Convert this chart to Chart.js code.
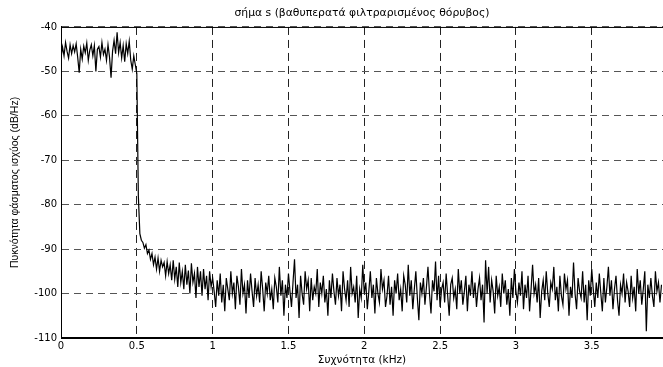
<!DOCTYPE html>
<html>
<head>
<meta charset="utf-8">
<script src="https://cdn.jsdelivr.net/npm/chart.js@4/dist/chart.umd.min.js"></script>
<style>
  html, body { margin: 0; padding: 0; background: #fff; }
  #wrap { width: 663px; height: 367px; }
</style>
</head>
<body>
<div id="wrap"><canvas id="psdChart"></canvas></div>
<script>
// PSD estimate of the low-pass filtered noise, one value every 0.01 kHz
const freqStart = 0;
const freqStep = 0.01; // kHz

const psdPassband = [
  -47, -44.5, -46.5, -43.5, -45.5, -47, -44, -46, -44.2, -45.6,
  -43.8, -46.8, -50.3, -45, -47.2, -44.3, -45.8, -43.6, -47.5, -45.2,
  -44, -46.5, -44.2, -50, -45, -44.4, -46.8, -43.5, -46.2, -45,
  -47.5, -44, -46.8, -51.4, -45.5, -43, -46, -41.2, -45.8, -43.5,
  -47, -44.2, -47.8, -43.8, -46, -43.2, -47.5, -49.5, -46.5, -48.5
];

const psdTransition = [
  -50.5, -78, -86.5, -88, -88.5, -89.8, -89, -91, -90.2, -92.3,
  -91, -93.5, -91.8, -94.5, -92, -95, -92.5, -94, -93, -96,
  -92.8, -95.5, -93.5, -97, -92.5, -96.8, -94, -98.5, -93, -97.5,
  -95, -99, -93.5, -98, -94.8, -100, -93.2, -97.5, -95.5, -101,
  -94, -98.5, -95, -100.5, -94.5, -99, -96, -101.5, -95, -98.5,
  -96.5
];

const psdStopband = [
  -99.5, -103, -97, -100.5, -95.5, -102, -98, -104, -96.5, -99,
  -101.5, -95, -100, -97.5, -103.5, -96, -98.5, -102.5, -94.5, -100,
  -98, -104.5, -97, -101, -95.5, -99.5, -103, -96.5, -100.5, -98,
  -102, -95, -99, -104, -97.5, -100, -96, -101.5, -99, -103.5,
  -96.5, -98.5, -102, -94, -100.5, -97, -105, -98, -101, -95.5,
  -99.5, -103, -97.5, -92.3, -101, -98, -105.5, -96, -100, -102.5,
  -95, -99, -97, -104, -96.5, -101.5, -98.5, -100, -94.5, -103,
  -97.5, -100, -96, -102, -99, -105, -97, -101, -95.5, -99.5,
  -102.5, -96.5, -100.5, -98, -104, -95, -99, -101.5, -97, -103,
  -94, -100, -98.5, -102, -96, -105.5, -99, -101, -93.5, -100,
  -97.5, -103.5, -99.5, -95, -101, -98, -104.5, -96.5, -100, -102,
  -94.5, -99, -97, -103, -100.5, -96, -102.5, -98.5, -105, -97,
  -100, -95.5, -101.5, -99, -104, -96, -98, -102, -93.5, -100.5,
  -97, -103.5, -99, -95, -101, -106, -97.5, -100, -96.5, -102.5,
  -98.5, -94, -100, -104.5, -97, -99.5, -92.8, -101.5, -96, -103,
  -99, -97.5, -102, -95.5, -100.5, -105, -98, -96.5, -101, -99,
  -103.5, -94.5, -100, -97, -102.5, -99.5, -96, -104, -98, -100.5,
  -95, -101, -97.5, -103, -99, -96.5, -101.5, -98, -106.5, -92.5,
  -100, -94, -102, -97, -99.5, -104.5, -96, -100.5, -98.5, -103,
  -95.5, -100, -97, -102.5, -99, -105, -96.5, -101, -94.5, -99.5,
  -102, -97.5, -100.5, -95, -103.5, -98, -101, -96, -104, -99,
  -93.5, -100, -98, -102, -96.5, -105.5, -99.5, -97, -101.5, -95,
  -100, -103, -97.5, -99, -94, -101.5, -98.5, -104, -96, -100.5,
  -102.5, -95.5, -99, -97, -105, -98.5, -101, -93, -100, -103.5,
  -96.5, -99.5, -101, -95, -102, -98, -106, -97, -100.5, -94.5,
  -99, -103, -97.5, -101, -95.5, -100, -104, -96.5, -102, -98.5,
  -94, -100.5, -97, -103.5, -99, -96, -101.5, -105, -98, -100,
  -95.5, -102, -97.5, -99.5, -103, -96, -101, -98.5, -104, -94.5,
  -100, -97, -102.5, -99, -95, -108.5, -98, -101, -96.5, -100.5,
  -103, -95, -99.5, -97.5, -102, -98
];

const xTicks = [0, 0.5, 1, 1.5, 2, 2.5, 3, 3.5];
const yTicks = [-110, -100, -90, -80, -70, -60, -50, -40];

const psd = psdPassband.concat(psdTransition, psdStopband);
const points = psd.map((v, i) => ({ x: freqStart + i * freqStep, y: v }));

const wideFont = "'DejaVu Sans', Verdana, sans-serif";
const narrowFont = "'Liberation Sans', Arial, sans-serif";

const ctx = document.getElementById("psdChart");

new Chart(ctx, {
  type: "line",
  data: {
    datasets: [
      {
        data: points,
        borderColor: "#000",
        borderWidth: 1.2,
        pointRadius: 0,
        tension: 0,
      },
    ],
  },
  options: {
    responsive: true,
    maintainAspectRatio: false,
    animation: false,
    layout: { padding: 0 },
    plugins: {
      legend: { display: false },
      tooltip: { enabled: false },
      title: {
        display: true,
        fullSize: false,
        text: "σήμα s (βαθυπερατά φιλτραρισμένος θόρυβος)",
        color: "#000",
        font: { family: wideFont, size: 10.8, weight: "normal" },
        padding: { top: 7, bottom: 7 },
      },
    },
    scales: {
      x: {
        type: "linear",
        min: 0,
        max: 3.97,
        afterBuildTicks: (scale) => {
          scale.ticks = xTicks.map((v) => ({ value: v }));
        },
        afterFit: (scale) => {
          scale.height = 29;
        },
        ticks: {
          color: "#000",
          font: { family: wideFont, size: 10 },
          padding: 2,
          maxRotation: 0,
          autoSkip: false,
          callback: (v) => String(v),
        },
        grid: {
          color: "#222",
          lineWidth: 1,
          drawTicks: false,
        },
        border: { display: true, color: "#000", width: 1, dash: [8, 5] },
        title: {
          display: true,
          text: "Συχνότητα (kHz)",
          color: "#000",
          font: { family: wideFont, size: 10.5 },
          padding: { top: 0, bottom: 0 },
        },
      },
      y: {
        min: -110,
        max: -40,
        afterBuildTicks: (scale) => {
          scale.ticks = yTicks.map((v) => ({ value: v }));
        },
        afterFit: (scale) => {
          scale.width = 61;
        },
        ticks: {
          color: "#000",
          font: { family: wideFont, size: 10 },
          padding: 4,
          autoSkip: false,
          callback: (v) => String(v),
        },
        grid: {
          color: "#555",
          lineWidth: 1,
          drawTicks: false,
        },
        border: { display: true, color: "#000", width: 1, dash: [7, 5] },
        title: {
          display: true,
          text: "Πυκνότητα φάσματος ισχύος (dB/Hz)",
          color: "#000",
          font: { family: narrowFont, size: 10.5 },
          padding: { top: 9, bottom: 0 },
        },
      },
    },
  },
  plugins: [
    {
      id: "axesBox",
      beforeDatasetsDraw(chart) {
        // solid top, bottom and left edges of the axes box
        const a = chart.chartArea;
        const c = chart.ctx;
        c.save();
        c.strokeStyle = "#000";
        c.lineWidth = 1;
        c.setLineDash([]);
        c.beginPath();
        c.moveTo(a.left, a.top + 0.5);
        c.lineTo(a.right, a.top + 0.5);
        c.moveTo(a.left, a.bottom - 0.5);
        c.lineTo(a.right, a.bottom - 0.5);
        c.moveTo(a.left + 0.5, a.top);
        c.lineTo(a.left + 0.5, a.bottom);
        c.stroke();
        c.restore();
      },
    },
  ],
});
</script>
</body>
</html>
